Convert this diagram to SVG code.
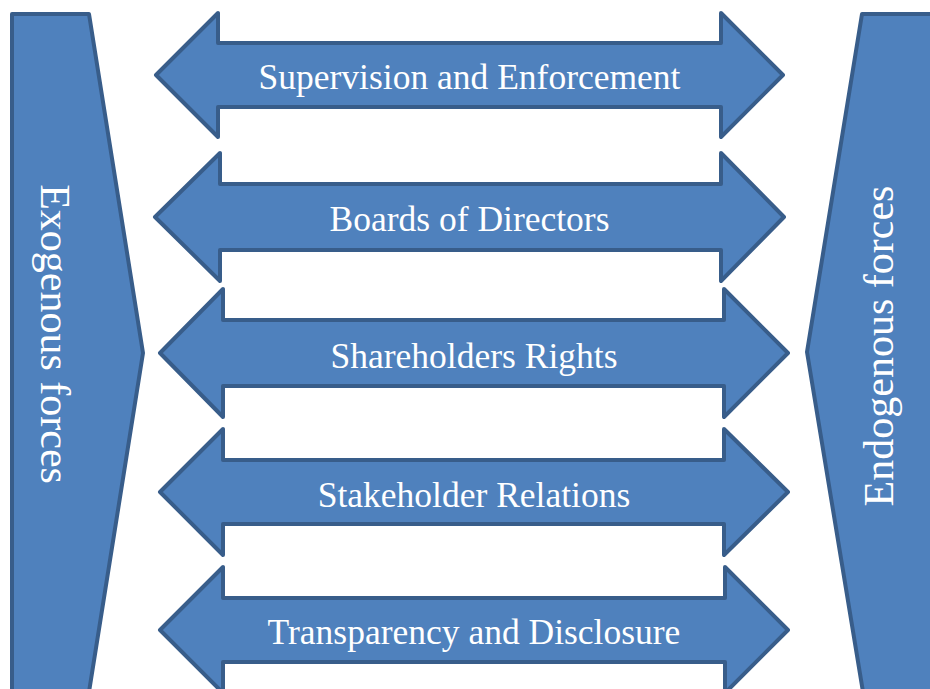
<svg xmlns="http://www.w3.org/2000/svg" width="930" height="689" viewBox="0 0 930 689">
  <style>
    .shape { fill: #4F81BD; stroke: #385D8A; stroke-width: 4; stroke-linejoin: round; }
    .label { fill: #FFFFFF; font-family: "Liberation Serif", "Times New Roman", serif; font-size: 35.5px; text-anchor: middle; }
    .side { fill: #FFFFFF; font-family: "Liberation Serif", "Times New Roman", serif; font-size: 42px; text-anchor: middle; }
  </style>
  <rect width="930" height="689" fill="#FFFFFF"/>

  <!-- side pentagons -->
  <g id="exogenous">
    <polygon class="shape" points="12,14 89,14 143,353 89,692 12,692"/>
    <text class="side" transform="translate(41,334) rotate(90)">Exogenous forces</text>
  </g>
  <g id="endogenous">
    <polygon class="shape" points="862,14 940,14 940,692 863,692 807,352"/>
    <text class="side" transform="translate(893,346) rotate(-90)">Endogenous forces</text>
  </g>

  <!-- double-headed block arrows -->
  <g id="supervision">
    <polygon class="shape" points="156,75 218,13 218,43 721,43 721,13 783,75 721,137 721,107 218,107 218,137"/>
    <text class="label" x="469.5" y="89">Supervision and Enforcement</text>
  </g>
  <g id="boards">
    <polygon class="shape" points="155,217 220,153 220,184 721,184 721,153 784,217 721,281 721,250 220,250 220,281"/>
    <text class="label" x="469.5" y="231">Boards of Directors</text>
  </g>
  <g id="shareholders">
    <polygon class="shape" points="160,353 223,289 223,320 724,320 724,289 788,353 724,417 724,386 223,386 223,417"/>
    <text class="label" x="474" y="367.5">Shareholders Rights</text>
  </g>
  <g id="stakeholders">
    <polygon class="shape" points="160,492 223,429 223,460 724,460 724,429 788,492 724,555 724,524 223,524 223,555"/>
    <text class="label" x="474" y="506.5">Stakeholder Relations</text>
  </g>
  <g id="transparency">
    <polygon class="shape" points="160,630 223,567 223,598 725,598 725,567 788,630 725,693 725,662 223,662 223,693"/>
    <text class="label" x="474" y="644">Transparency and Disclosure</text>
  </g>

  <g id="connectors"></g>
</svg>
